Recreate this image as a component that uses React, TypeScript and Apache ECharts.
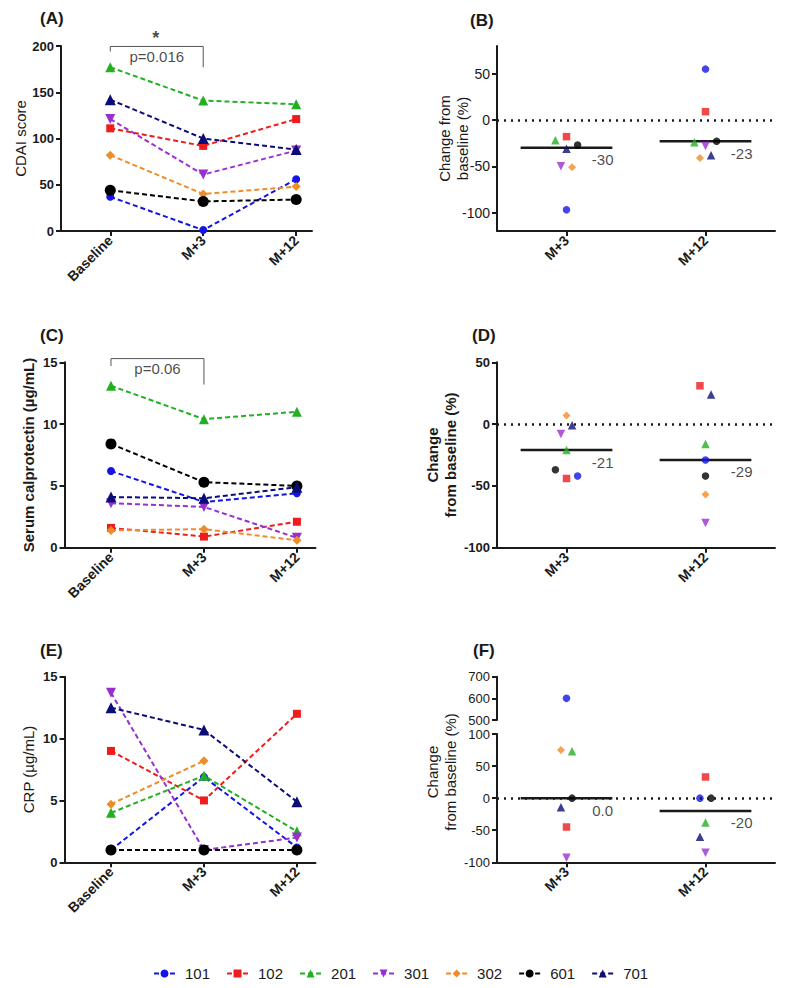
import React, { useEffect, useRef } from 'react';
import * as echarts from 'echarts';

const FONT = '"Liberation Sans", Arial, Helvetica, sans-serif';
const INK = '#1a1a1a';

// subjects and styling
const subjects = ['101', '102', '201', '301', '302', '601', '701'];
const colors = ['#1414e6', '#ee1c1c', '#22b022', '#9a2fd0', '#f08c28', '#000000', '#0c0c78'];
const symbols = ['circle', 'rect', 'triangle', 'triangle', 'diamond', 'circle', 'triangle'];
const symbolRot = [0, 0, 0, 180, 0, 0, 0];
const lineSymSize = [8, 8, 10, 10, 9, 11, 11];
const dotSymSize = [7.5, 7.5, 8.5, 8.5, 8, 7.5, 8.5];

const timeCats = ['Baseline', 'M+3', 'M+12'];
const changeCats = ['M+3', 'M+12'];

// (A) CDAI score
const cdaiBaseline = [37, 111, 177, 121, 82, 44, 142];
const cdaiM3 = [1, 92, 141, 61, 40, 32, 100];
const cdaiM12 = [56, 121, 137, 87, 48, 34, 88];

// (B) CDAI change from baseline (%)
const cdaiChgM3 = [-97, -18, -22, -50, -51, -27, -31];
const cdaiChgM12 = [55, 9, -24, -28, -41, -23, -38];
const cdaiJitM3 = [0, 0, -0.08, -0.04, 0.04, 0.08, 0];
const cdaiJitM12 = [0, 0, -0.08, 0, -0.04, 0.08, 0.04];
const cdaiChgMean = [-30, -23];
const cdaiChgMeanLabels = ['-30', '-23'];

// (C) Serum calprotectin
const calBaseline = [6.2, 1.6, 13.1, 3.6, 1.4, 8.4, 4.1];
const calM3 = [3.7, 0.9, 10.4, 3.3, 1.5, 5.3, 4.0];
const calM12 = [4.4, 2.1, 11.0, 0.8, 0.6, 5.0, 4.9];

// (D) calprotectin change (%)
const calChgM3 = [-42, -44, -21, -8, 7, -37, -1];
const calChgM12 = [-29, 31, -16, -80, -57, -42, 24];
const calJitM3 = [0.08, 0, 0, -0.04, 0, -0.08, 0.04];
const calJitM12 = [0, -0.04, 0, 0, 0, 0, 0.04];
const calChgMean = [-21, -29];
const calChgMeanLabels = ['-21', '-29'];

// (E) CRP
const crpBaseline = [1.0, 9.0, 4.0, 13.7, 4.7, 1.0, 12.5];
const crpM3 = [6.9, 5.0, 7.0, 1.0, 8.2, 1.0, 10.7];
const crpM12 = [1.2, 12.0, 2.5, 2.0, null, 1.0, 4.9];

// (F) CRP change (%)
const crpChgM3 = [600, -45, 73, -93, 75, 0, -14];
const crpChgM12 = [0, 33, -38, -85, null, 0, -60];
const crpJitM3 = [0, 0, 0.04, 0, -0.04, 0.04, -0.04];
const crpJitM12 = [-0.04, 0, 0, 0, 0, 0.04, -0.04];
const crpChgMean = [0, -20];
const crpChgMeanLabels = ['0.0', '-20'];

// annotation texts
const sigA = { text: 'p=0.016', star: '*' };
const sigC = { text: 'p=0.06' };

function gridBox(left: number, top: number, width: number, height: number) {
  return { left, top, width, height, containLabel: false, outerBoundsMode: 'none' };
}

function timeXAxis(gridIndex: number, min: number, max: number) {
  return {
    type: 'value', gridIndex, min, max,
    axisLine: { show: true, onZero: false, lineStyle: { color: INK, width: 2 } },
    axisTick: { show: true, length: 5, lineStyle: { color: INK, width: 2 }, customValues: [0, 1, 2] },
    axisLabel: {
      customValues: [0, 1, 2], formatter: (v: number) => timeCats[Math.round(v)] ?? '',
      rotate: 45, margin: 7, fontSize: 14, fontWeight: 'bold', color: INK, fontFamily: FONT,
    },
    splitLine: { show: false },
  };
}

function changeXAxis(gridIndex: number, show = true) {
  return {
    type: 'value', gridIndex, min: -0.5, max: 1.5, show,
    axisLine: { show: true, onZero: false, lineStyle: { color: INK, width: 2 } },
    axisTick: { show: true, length: 5, lineStyle: { color: INK, width: 2 }, customValues: [0, 1] },
    axisLabel: {
      customValues: [0, 1], formatter: (v: number) => changeCats[Math.round(v)] ?? '',
      rotate: 45, margin: 7, fontSize: 14, fontWeight: 'bold', color: INK, fontFamily: FONT,
    },
    splitLine: { show: false },
  };
}

function yAx(gridIndex: number, min: number, max: number, o: any) {
  const fs = o.fontSize || (o.bold ? 13 : 14);
  const ax: any = {
    type: 'value', gridIndex, min, max,
    axisLine: { show: true, onZero: false, lineStyle: { color: INK, width: 2 } },
    axisTick: { show: true, length: 5, lineStyle: { color: INK, width: 2 } },
    axisLabel: {
      margin: 7, fontSize: fs, lineHeight: fs, fontWeight: o.bold ? 'bold' : 'normal',
      color: INK, fontFamily: FONT,
    },
    splitLine: { show: false },
    nameMoveOverlap: false,
  };
  if (o.interval) ax.interval = o.interval;
  if (o.custom) {
    ax.axisTick.customValues = o.custom;
    ax.axisLabel.customValues = o.custom;
  }
  if (o.name) {
    ax.name = o.name;
    ax.nameLocation = 'middle';
    ax.nameGap = o.nameGap;
    ax.nameTextStyle = {
      fontSize: 15, fontWeight: o.nameBold ? 'bold' : 'normal', color: INK,
      fontFamily: FONT, lineHeight: o.lineHeight || 18,
    };
  }
  return ax;
}

function timeSeries(axis: number, base: any[], m3: any[], m12: any[]) {
  return subjects.map((s, i) => ({
    type: 'line', name: s, xAxisIndex: axis, yAxisIndex: axis,
    data: [[0, base[i]], [1, m3[i]], [2, m12[i]]].filter((p) => p[1] != null),
    symbol: symbols[i], symbolSize: lineSymSize[i], symbolRotate: symbolRot[i],
    showSymbol: true,
    lineStyle: { color: colors[i], width: 2, type: [5, 3] },
    itemStyle: { color: colors[i] },
    z: 3,
  }));
}

function changeSeries(axis: number, v3: any[], v12: any[], j3: number[], j12: number[], upperAxis?: number) {
  const out: any[] = [];
  subjects.forEach((s, i) => {
    const pts: any[] = [];
    if (v3[i] != null) pts.push([0 + j3[i], v3[i]]);
    if (v12[i] != null) pts.push([1 + j12[i], v12[i]]);
    const low = upperAxis == null ? pts : pts.filter((p) => p[1] <= 100);
    const high = upperAxis == null ? [] : pts.filter((p) => p[1] >= 500);
    const base = {
      type: 'scatter', name: s, symbol: symbols[i], symbolSize: dotSymSize[i],
      symbolRotate: symbolRot[i], itemStyle: { color: colors[i] }, z: 3,
    };
    out.push({ ...base, xAxisIndex: axis, yAxisIndex: axis, data: low });
    if (high.length) out.push({ ...base, xAxisIndex: upperAxis, yAxisIndex: upperAxis, data: high });
  });
  return out;
}

function meanSeries(axis: number, means: number[], labels: string[]) {
  const out: any[] = means.map((m, c) => ({
    type: 'line', name: `mean-${axis}-${c}`, xAxisIndex: axis, yAxisIndex: axis,
    data: [[c - 0.33, m], [c + 0.33, m]], symbol: 'none',
    lineStyle: { color: INK, width: 2.5 }, z: 2, silent: true,
    markLine: c === 0 ? {
      silent: true, symbol: ['none', 'none'], label: { show: false },
      lineStyle: { type: [2, 5], width: 2.5, color: INK },
      data: [{ yAxis: 0 }],
    } : undefined,
  }));
  out.push({
    type: 'scatter', name: `meanlab-${axis}`, xAxisIndex: axis, yAxisIndex: axis,
    data: means.map((m, c) => ({ value: [c + 0.26, m], label: { formatter: labels[c] } })),
    symbolSize: 1, itemStyle: { color: 'rgba(0,0,0,0)' }, silent: true, z: 4,
    label: { show: true, position: 'bottom', distance: 4, fontSize: 15, color: INK, fontFamily: FONT },
  });
  return out;
}

function bracket(axis: number, pts: number[][], texts: { v: number[]; t: string; size: number; bold?: boolean }[]) {
  return [
    {
      type: 'line', name: `br-${axis}`, xAxisIndex: axis, yAxisIndex: axis, data: pts,
      symbol: 'none', clip: false, silent: true, lineStyle: { color: '#555', width: 1 }, z: 2,
    },
    {
      type: 'scatter', name: `brt-${axis}`, xAxisIndex: axis, yAxisIndex: axis, clip: false,
      silent: true, symbolSize: 1, itemStyle: { color: 'rgba(0,0,0,0)' },
      data: texts.map((t) => ({
        value: t.v,
        label: { formatter: t.t, fontSize: t.size, fontWeight: t.bold ? 'bold' : 'normal' },
      })),
      label: { show: true, position: 'inside', color: INK, fontFamily: FONT },
    },
  ];
}

function letter(t: string, x: number, y: number) {
  return {
    type: 'text', x, y,
    style: { text: t, font: `bold 17px ${FONT}`, fill: INK, align: 'left', verticalAlign: 'middle' },
  };
}

export default function App() {
  const ref = useRef<HTMLDivElement>(null);
  useEffect(() => {
    if (!ref.current) return;
    const chart = echarts.init(ref.current, null, { renderer: 'svg' });
    const option: any = {
      animation: false,
      textStyle: { fontFamily: FONT },
      grid: [
        gridBox(61, 46, 251, 185), // 0 A
        gridBox(497, 46, 278, 185), // 1 B
        gridBox(64.5, 362.3, 251, 185.4), // 2 C
        gridBox(497, 362.3, 278, 185.4), // 3 D
        gridBox(64.5, 676.7, 251, 185.6), // 4 E
        gridBox(497, 734, 278, 128.3), // 5 F lower
        gridBox(497, 676.7, 278, 43.3), // 6 F upper
      ],
      xAxis: [
        timeXAxis(0, -0.53, 2.17),
        changeXAxis(1),
        timeXAxis(2, -0.5, 2.2),
        changeXAxis(3),
        timeXAxis(4, -0.5, 2.2),
        changeXAxis(5),
        changeXAxis(6, false),
      ],
      yAxis: [
        yAx(0, 0, 200, { interval: 50, bold: true, name: 'CDAI score', nameGap: 32 }),
        yAx(1, -120, 80, { custom: [-100, -50, 0, 50], name: 'Change from\nbaseline (%)', nameGap: 26, lineHeight: 17.5 }),
        yAx(2, 0, 15, { interval: 5, bold: true, name: 'Serum calprotectin (µg/mL)', nameBold: true, nameGap: 27 }),
        yAx(3, -100, 50, { interval: 50, bold: true, name: 'Change\nfrom baseline (%)', nameBold: true, nameGap: 38, lineHeight: 18 }),
        yAx(4, 0, 15, { interval: 5, bold: true, name: 'CRP (µg/mL)', nameGap: 27 }),
        yAx(5, -100, 100, { interval: 50, fontSize: 13 }),
        yAx(6, 500, 700, { interval: 100, fontSize: 13 }),
      ],
      legend: {
        data: subjects, left: 148, top: 961, itemWidth: 21, itemHeight: 10, itemGap: 16,
        textStyle: { fontSize: 15, color: INK, fontFamily: FONT, padding: [0, 0, 0, 5] },
      },
      graphic: [
        letter('(A)', 40, 18),
        letter('(B)', 470, 20),
        letter('(C)', 40, 335),
        letter('(D)', 472, 335),
        letter('(E)', 40, 650),
        letter('(F)', 473, 650),
        {
          type: 'text', x: 441, y: 772, rotation: Math.PI / 2,
          style: {
            text: 'Change\nfrom baseline (%)', font: `15px ${FONT}`, fill: INK,
            align: 'center', verticalAlign: 'middle', lineHeight: 18,
          },
        },
      ],
      series: [
        ...bracket(0, [[0, 194], [0, 199.5], [1, 199.5], [1, 177]], [
          { v: [0.49, 208.5], t: sigA.star, size: 18, bold: true },
          { v: [0.5, 188.4], t: sigA.text, size: 15 },
        ]),
        ...timeSeries(0, cdaiBaseline, cdaiM3, cdaiM12),
        ...meanSeries(1, cdaiChgMean, cdaiChgMeanLabels),
        ...changeSeries(1, cdaiChgM3, cdaiChgM12, cdaiJitM3, cdaiJitM12),
        ...bracket(2, [[0, 14.7], [0, 15.3], [1, 15.3], [1, 13.2]], [
          { v: [0.5, 14.5], t: sigC.text, size: 15 },
        ]),
        ...timeSeries(2, calBaseline, calM3, calM12),
        ...meanSeries(3, calChgMean, calChgMeanLabels),
        ...changeSeries(3, calChgM3, calChgM12, calJitM3, calJitM12),
        ...timeSeries(4, crpBaseline, crpM3, crpM12),
        ...meanSeries(5, crpChgMean, crpChgMeanLabels),
        ...changeSeries(5, crpChgM3, crpChgM12, crpJitM3, crpJitM12, 6),
      ],
    };
    chart.setOption(option);
    return () => chart.dispose();
  }, []);
  return (
    <div
      ref={ref}
      style={{ position: 'fixed', left: 0, top: 0, width: 788, height: 988, background: '#fff' }}
    />
  );
}
